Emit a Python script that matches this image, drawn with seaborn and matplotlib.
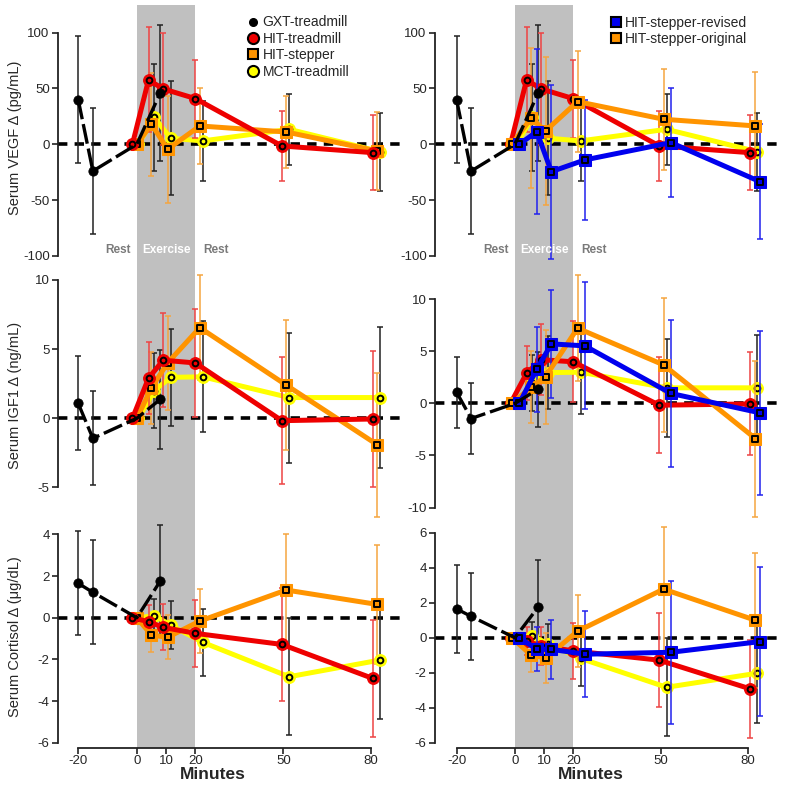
import matplotlib
matplotlib.use("Agg")
import matplotlib.pyplot as plt
import seaborn as sns
import pandas as pd
import numpy as np
from matplotlib.lines import Line2D

sns.set_style("ticks")
plt.rcParams["font.family"] = ["Liberation Sans", "DejaVu Sans"]

# time points (minutes, slightly jittered per group as in the figure)
gxt_t = [-20, -15, 0, 8]
hitt_t = [-1.5, 4, 9, 20, 49.5, 80.5]
hits_t = [0, 5, 10.5, 21.5, 51, 82]
mct_t = [0.5, 6, 11.5, 22.5, 52, 83]
rev_t = [1.5, 7.5, 12.5, 24, 53.5, 84]
orig_t = [-1, 5.5, 10.5, 21.5, 51, 82.5]

# VEGF (pg/mL)
gxt_vegf = [40, -24, 0, 46]
gxt_vegf_err = [56.5, 56.5, 0, 61]
hitt_vegf = [0, 57.6, 49.6, 40.9, -1.5, -7.5]
hitt_vegf_err = [0, 47, 50, 35, 31.5, 33.5]
hits_vegf = [0, 18, -4.5, 16.4, 11, -6]
hits_vegf_err = [0, 46, 48, 34, 32.5, 35]
mct_vegf = [0, 24, 5.4, 3, 13.4, -6.6]
mct_vegf_err = [0, 48, 51, 36, 32, 35]
rev_vegf = [0, 11.3, -24.5, -14, 1.5, -33.4]
rev_vegf_err = [0, 74, 78, 54, 49, 51.6]
orig_vegf = [0, 23.3, 12, 38.2, 22.4, 16.4]
orig_vegf_err = [0, 62.7, 66, 45, 45, 48]

# IGF1 (ng/mL)
gxt_igf = [1.08, -1.45, 0, 1.37]
gxt_igf_err = [3.4, 3.4, 0, 3.6]
hitt_igf = [0, 2.9, 4.2, 4.0, -0.17, -0.05]
hitt_igf_err = [0, 2.6, 3.4, 3.9, 4.6, 4.95]
hits_igf = [0, 2.2, 4.0, 6.55, 2.4, -1.9]
hits_igf_err = [0, 2.6, 3.4, 3.8, 4.7, 5.2]
mct_igf = [0, 2.0, 2.96, 3.0, 1.5, 1.5]
mct_igf_err = [0, 2.7, 3.5, 4.0, 4.7, 5.1]
rev_igf = [0, 3.28, 5.72, 5.53, 0.96, -0.9]
rev_igf_err = [0, 4.1, 5.2, 6.1, 7.1, 7.9]
orig_igf = [0, 1.54, 2.57, 7.23, 3.7, -3.38]
orig_igf_err = [0, 3.45, 4.5, 5.1, 6.4, 7.5]

# Cortisol (ug/dL)
gxt_cort = [1.65, 1.22, 0, 1.76]
gxt_cort_err = [2.5, 2.5, 0, 2.7]
hitt_cort = [0, -0.19, -0.46, -0.75, -1.28, -2.91]
hitt_cort_err = [0, 0.8, 1.1, 1.6, 2.7, 2.8]
hits_cort = [0, -0.83, -0.94, -0.16, 1.33, 0.64]
hits_cort_err = [0, 0.8, 1.06, 1.55, 2.67, 2.85]
mct_cort = [0, 0.1, -0.35, -1.18, -2.83, -2.03]
mct_cort_err = [0, 0.8, 1.14, 1.6, 2.8, 2.85]
rev_cort = [0, -0.66, -0.66, -0.94, -0.83, -0.22]
rev_cort_err = [0, 1.25, 1.7, 2.47, 4.1, 4.25]
orig_cort = [0, -0.98, -1.16, 0.375, 2.78, 1.0]
orig_cort_err = [0, 1.0, 1.45, 2.07, 3.56, 3.85]

x_ticks = [-20, 0, 10, 20, 50, 80]
ylabels = ["Serum VEGF \u0394 (pg/mL)", "Serum IGF1 \u0394 (ng/mL)",
           "Serum Cortisol \u0394 (\u03bcg/dL)"]

RED = "#ee0000"
ORANGE = "#ff9400"
YELLOW = "#ffff00"
BLUE = "#0000ee"
SHADE = "#c0c0c0"

W, H = 789, 787
fig = plt.figure(figsize=(W / 100, H / 100), dpi=100)


def px_axes(x0, x1, ytop, ybot):
    return fig.add_axes([x0 / W, 1 - ybot / H, (x1 - x0) / W, (ybot - ytop) / H])


def series(ax, t, y, err, color, marker, ecolor, z):
    t = np.array(t, float)
    y = np.array(y, float)
    err = np.array(err, float)
    m = err > 0
    ax.errorbar(t[m], y[m], yerr=err[m], fmt="none", ecolor=ecolor,
                elinewidth=1.1, capsize=2.5, capthick=1.1, zorder=z - 0.5)
    df = pd.DataFrame({"t": t, "y": y})
    sns.lineplot(data=df, x="t", y="y", ax=ax, color=color, lw=3.6,
                 marker=marker, ms=8.5, mec=color, mfc=color, zorder=z)
    sns.scatterplot(data=df, x="t", y="y", ax=ax, marker=marker, s=17,
                    color=color, edgecolor="black", linewidth=1.4, zorder=z + 0.1)


def gxt(ax, y, err):
    t = np.array(gxt_t, float)
    y = np.array(y, float)
    err = np.array(err, float)
    m = err > 0
    ax.errorbar(t[m], y[m], yerr=err[m], fmt="none", ecolor="#222222",
                elinewidth=1.1, capsize=2.5, capthick=1.1, zorder=1.8)
    df = pd.DataFrame({"t": t, "y": y})
    sns.lineplot(data=df, x="t", y="y", ax=ax, color="black", lw=2.4,
                 dashes=False, zorder=5)
    ax.lines[-1].set_linestyle((0, (6, 1.5)))
    sns.scatterplot(data=df.iloc[[0, 1, 3]], x="t", y="y", ax=ax, s=45,
                    color="black", edgecolor="black", zorder=5.1)


left_x = (58, 403, (-26.9, 90.85))
right_x = (435, 782, (-27.4, 91.6))
rows = [(5, 265), (265, 520), (520, 748)]

ylims_left = [(-108.1, 124.7), (-7.35, 11.08), (-6.25, 4.69)]
ylims_right = [(-108.1, 124.7), (-11.2, 13.3), (-6.3, 6.73)]
yticks_left = [[100, 50, 0, -50, -100], [10, 5, 0, -5], [4, 2, 0, -2, -4, -6]]
yticks_right = [[100, 50, 0, -50, -100], [10, 5, 0, -5, -10], [6, 4, 2, 0, -2, -4, -6]]

panels = [
    (gxt_vegf, gxt_vegf_err, hitt_vegf, hitt_vegf_err, hits_vegf, hits_vegf_err,
     mct_vegf, mct_vegf_err, rev_vegf, rev_vegf_err, orig_vegf, orig_vegf_err),
    (gxt_igf, gxt_igf_err, hitt_igf, hitt_igf_err, hits_igf, hits_igf_err,
     mct_igf, mct_igf_err, rev_igf, rev_igf_err, orig_igf, orig_igf_err),
    (gxt_cort, gxt_cort_err, hitt_cort, hitt_cort_err, hits_cort, hits_cort_err,
     mct_cort, mct_cort_err, rev_cort, rev_cort_err, orig_cort, orig_cort_err),
]

for col in range(2):
    x0, x1, xlim = left_x if col == 0 else right_x
    for r in range(3):
        ax = px_axes(x0, x1, rows[r][0], rows[r][1])
        ax.patch.set_alpha(0)
        (g, ge, ht, hte, hs, hse, mc, mce, rv, rve, og, oge) = panels[r]

        ax.axvspan(0, 20, color=SHADE, lw=0, zorder=0)
        ax.axhline(0, color="black", lw=2.6, ls=(0, (2.6, 2.0)), zorder=1.5)

        series(ax, mct_t, mc, mce, YELLOW, "o", "#222222", 2)
        if col == 0:
            series(ax, hits_t, hs, hse, ORANGE, "s", "#f5a540", 2.4)
            series(ax, hitt_t, ht, hte, RED, "o", "#ee4444", 2.8)
        else:
            series(ax, hitt_t, ht, hte, RED, "o", "#ee4444", 2.4)
            series(ax, orig_t, og, oge, ORANGE, "s", "#f5a540", 2.8)
            series(ax, rev_t, rv, rve, BLUE, "s", "#2222ee", 3.2)
        gxt(ax, g, ge)

        ax.set_xlim(*xlim)
        ylim = ylims_left[r] if col == 0 else ylims_right[r]
        yt = yticks_left[r] if col == 0 else yticks_right[r]
        ax.set_ylim(*ylim)
        ax.set_yticks(yt)
        ax.set_yticklabels([str(v) for v in yt])
        sns.despine(ax=ax, top=True, right=True, bottom=(r != 2))
        ax.spines["left"].set_bounds(min(yt), max(yt))
        ax.spines["left"].set_linewidth(1.3)
        ax.spines["left"].set_color("#222222")
        ax.tick_params(axis="y", length=4, width=1.2, color="#222222",
                       labelsize=9.5, pad=2)
        ax.set_ylabel("")
        ax.set_xlabel("")
        if col == 0:
            ax.set_ylabel(ylabels[r], fontsize=10.5)
            ax.yaxis.set_label_coords(-0.104, 0.49)

        if r == 2:
            ax.set_xticks(x_ticks)
            ax.set_xticklabels([str(v) for v in x_ticks])
            ax.spines["bottom"].set_bounds(-20, 80)
            ax.spines["bottom"].set_linewidth(1.3)
            ax.spines["bottom"].set_color("#222222")
            ax.tick_params(axis="x", length=4, width=1.2, color="#222222",
                           labelsize=9.5, pad=1)
            ax.set_xlabel("Minutes", fontsize=12.5, fontweight="bold")
            ax.xaxis.set_label_coords(0.45, -0.085)
        else:
            ax.set_xticks([])

        if r == 0:
            ax.text(-6.4, -94.6, "Rest", color="#7a7a7a", fontsize=8.5,
                    fontweight="bold", ha="center", va="center")
            ax.text(10, -94.6, "Exercise", color="white", fontsize=8.5,
                    fontweight="bold", ha="center", va="center")
            ax.text(27, -94.6, "Rest", color="#7a7a7a", fontsize=8.5,
                    fontweight="bold", ha="center", va="center")

# legends
h_left = [
    Line2D([], [], ls="none", marker="o", ms=5.5, mfc="black", mec="black"),
    Line2D([], [], ls="none", marker="o", ms=8, mfc=RED, mec="black", mew=1.5),
    Line2D([], [], ls="none", marker="s", ms=7.5, mfc=ORANGE, mec="black", mew=1.5),
    Line2D([], [], ls="none", marker="o", ms=8, mfc=YELLOW, mec="black", mew=1.5),
]
fig.legend(h_left, ["GXT-treadmill", "HIT-treadmill", "HIT-stepper", "MCT-treadmill"],
           loc="upper left", bbox_to_anchor=(247.4 / W, 1 - 15.5 / H),
           frameon=False, fontsize=10, handlelength=0.8, handletextpad=0.3,
           labelspacing=0.17, borderpad=0, borderaxespad=0)
h_right = [
    Line2D([], [], ls="none", marker="s", ms=7.5, mfc=BLUE, mec="black", mew=1.5),
    Line2D([], [], ls="none", marker="s", ms=7.5, mfc=ORANGE, mec="black", mew=1.5),
]
fig.legend(h_right, ["HIT-stepper-revised", "HIT-stepper-original"],
           loc="upper left", bbox_to_anchor=(610 / W, 1 - 16 / H),
           frameon=False, fontsize=10, handlelength=0.8, handletextpad=0.3,
           labelspacing=0.17, borderpad=0, borderaxespad=0)

plt.savefig("out.png", dpi=100)
